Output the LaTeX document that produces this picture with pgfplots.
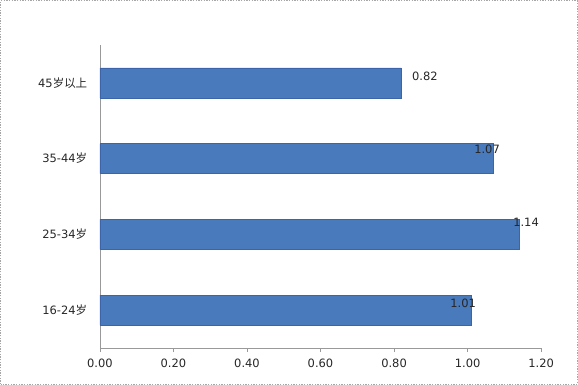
\documentclass[border=0pt]{standalone}
\usepackage{pgfplots}
\pgfplotsset{compat=1.18}
\usepackage{fontspec}
\setmainfont{DejaVu Sans}
\newfontfamily\cjk{Noto Sans CJK SC}
\definecolor{barblue}{RGB}{72,122,188}
\definecolor{baredge}{RGB}{60,100,170}
\begin{document}
\begin{tikzpicture}[x=1pt,y=1pt]
\draw[gray!70, dashed, dash pattern=on 1pt off 1pt, line width=0.8pt] (0.5,0.5) rectangle (433,288.25);
\begin{axis}[
  at={(75pt,27.75pt)}, anchor=south west,
  scale only axis, width=330.75pt, height=227.25pt,
  xmin=0, xmax=1.2, ymin=-0.5, ymax=3.5,
  axis x line*=bottom, axis y line*=left,
  axis line style={gray!80, line width=0.5pt},
  xtick={0,0.2,...,1.2},
  x tick label style={/pgf/number format/fixed, /pgf/number format/fixed zerofill, /pgf/number format/precision=2, yshift=-2pt},
  /pgf/number format/assume math mode=true,
  tick align=outside, tick style={gray!80, line width=0.5pt},
  major tick length=3pt,
  ytick={0,1,2,3}, major y tick style={draw=none},
  yticklabels={{16-24{\cjk 岁}},{25-34{\cjk 岁}},{35-44{\cjk 岁}},{45{\cjk 岁以上}}},
  ticklabel style={font=\fontsize{8.6}{10}\selectfont, text=black!85},
  y tick label style={xshift=-3pt},
  clip=false,
]
\addplot[xbar, bar width=22.5pt, fill=barblue, draw=baredge, line width=0.4pt]
  coordinates {(1.01,0) (1.14,1) (1.07,2) (0.82,3)};
\node[font=\fontsize{8.6}{10}\selectfont, text=black!85] at (axis cs:0.884,3.08) {0.82};
\node[font=\fontsize{8.6}{10}\selectfont, text=black!85] at (axis cs:1.053,2.12) {1.07};
\node[font=\fontsize{8.6}{10}\selectfont, text=black!85] at (axis cs:1.159,1.16) {1.14};
\node[font=\fontsize{8.6}{10}\selectfont, text=black!85] at (axis cs:0.988,0.09) {1.01};
\end{axis}
\end{tikzpicture}
\end{document}
